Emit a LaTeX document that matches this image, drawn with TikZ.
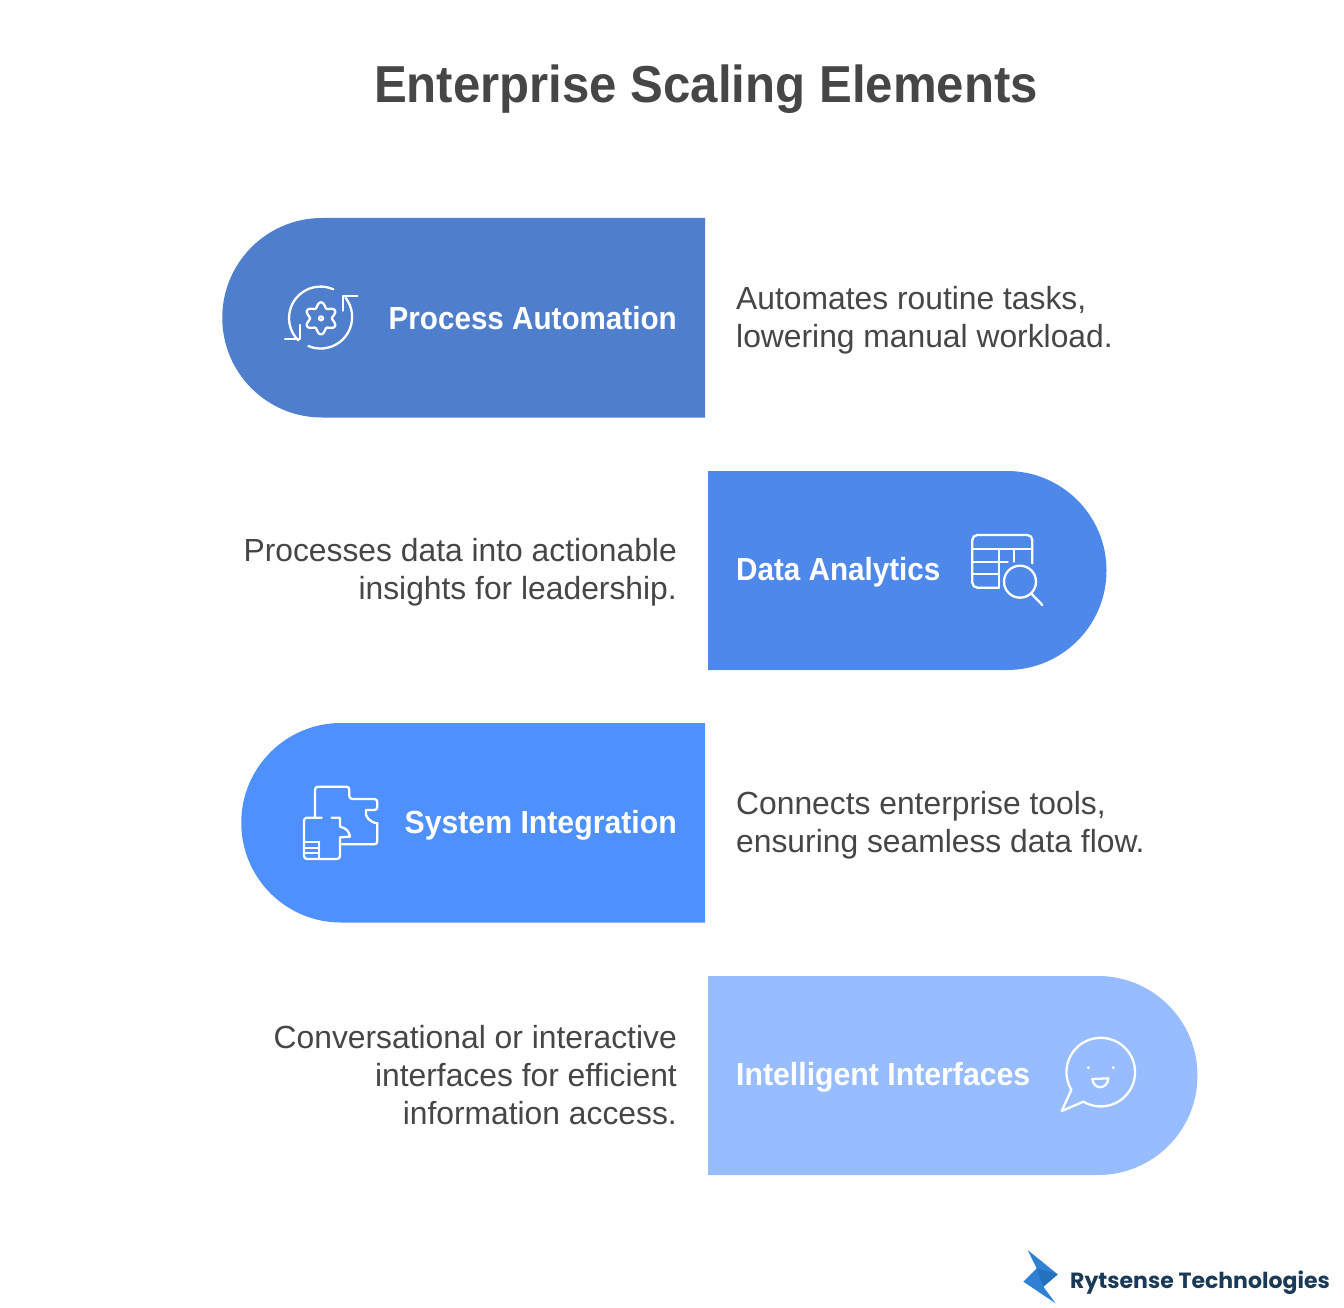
\documentclass[tikz,border=0pt]{standalone}
\usepackage{fontspec}
\setmainfont{Liberation Sans}[BoldFeatures={FakeStretch=0.926}]
\newfontfamily\titlefont{Liberation Sans}[BoldFeatures={FakeStretch=0.945}]
\newfontfamily\descfont{Liberation Sans}[FakeStretch=0.994]
\newfontfamily\logofont{Poppins}
\definecolor{pillA}{HTML}{4F7FCC}
\definecolor{pillB}{HTML}{4E88E8}
\definecolor{pillC}{HTML}{4F90FF}
\definecolor{pillD}{HTML}{97BCFF}
\definecolor{ink}{HTML}{464646}
\definecolor{navy}{HTML}{1B3A57}
\definecolor{logoA}{HTML}{2F80D2}
\definecolor{logoB}{HTML}{2272BE}
\tikzset{
  titletext/.style={font=\titlefont\fontsize{52}{56}\selectfont\bfseries,text=ink,inner sep=0pt},
  pilltext/.style={font=\fontsize{32}{38}\selectfont\bfseries,text=white,inner sep=0pt,anchor=east},
  pillwide/.style={pilltext,font=\titlefont\fontsize{32}{38}\selectfont\bfseries},
  desc/.style={font=\descfont\fontsize{32}{38}\selectfont,text=ink,inner sep=0pt},
  descL/.style={desc,align=left,anchor=west},
  descR/.style={desc,align=right,anchor=east},
  icon/.style={draw=white,line width=2.3pt,line cap=round,line join=round},
  zoomed/.style={x=0.33333pt,y=-0.33333pt},
}
\begin{document}
\begin{tikzpicture}[x=1pt,y=-1pt]
\useasboundingbox (0,0) rectangle (1344,1308);
\node[titletext] (title) at (706,89) {Enterprise Scaling Elements};

\fill[pillA] (705,218) -- (322,218) arc[start angle=90,end angle=270,radius=99.75pt] -- (705,417.5) -- cycle;
\fill[pillB] (708,471) -- (1007,471) arc[start angle=90,end angle=-90,radius=99.5pt] -- (708,670) -- cycle;
\fill[pillC] (705,723) -- (341,723) arc[start angle=90,end angle=270,radius=99.75pt] -- (705,922.5) -- cycle;
\fill[pillD] (708,976) -- (1098,976) arc[start angle=90,end angle=-90,radius=99.5pt] -- (708,1175) -- cycle;

\node[pilltext] (l1) at (677,318) {Process Automation};
\node[pilltext,anchor=west] (l2) at (736,572) {Data Analytics};
\node[pillwide] (l3) at (677,825) {System Integration};
\node[pillwide,anchor=west] (l4) at (736,1077) {Intelligent Interfaces};

\node[descL] (d1) at (736,320) {Automates routine tasks,\\lowering manual workload.};
\node[descR] (d2) at (677,572) {Processes data into actionable\\insights for leadership.};
\node[descL] (d3) at (736,825) {Connects enterprise tools,\\ensuring seamless data flow.};
\node[descR] (d4) at (677,1075) {Conversational or interactive\\interfaces for efficient\\information access.};

% gear icon
\begin{scope}[shift={(270,270)},zoomed,icon]
\draw (190,58) arc[start angle=66,end angle=225,radius=31.5pt];
\draw (115,228) arc[start angle=247,end angle=398,radius=31.5pt];
\draw (45,208) -- (90,208) -- (90,165);
\draw (262,78) -- (218,78) -- (218,122);
\draw[smooth,samples=145,domain=0:360] plot ({153+(40.5+7.5*cos(6*\x))*cos(\x+90)},{145+(40.5+7.5*cos(6*\x))*sin(\x+90)}) -- cycle;
\draw (153,145) circle[radius=2pt];
\end{scope}

% table icon
\begin{scope}[shift={(955,520)},zoomed,icon]
\draw[rounded corners=5pt] (232,130) -- (232,45) -- (52,45) -- (52,203) -- (132,203);
\draw (52,88) -- (232,88);
\draw (52,125) -- (158,125);
\draw (52,163) -- (132,163);
\draw (132,88) -- (132,203);
\draw (178,88) -- (178,125);
\draw (195,185) circle[radius=16pt];
\draw (230,222) -- (262,255);
\end{scope}

% puzzle icon
\begin{scope}[shift={(290,775)},zoomed,icon]
\draw[rounded corners=3pt] (75,125) -- (75,35) -- (178,35) -- (178,72) -- (262,72) -- (262,105) -- (228,105);
\draw (228,105) .. controls (222,125) and (240,142) .. (262,145);
\draw[rounded corners=3pt] (262,145) -- (262,208) -- (155,208);
\draw[rounded corners=3pt] (95,128) -- (42,128) -- (42,252) -- (150,252) -- (150,190);
\draw (125,128) -- (150,128) -- (150,155) .. controls (168,158) and (178,170) .. (180,185) -- (150,187);
\draw (42,200) -- (88,200);
\draw (42,218) -- (88,218);
\draw (42,235) -- (88,235);
\draw (88,200) -- (88,252);
\end{scope}

% chat icon
\begin{scope}[shift={(1050,1025)},zoomed,icon]
\draw (100,230) arc[start angle=239.5,end angle=571,radius=34.3pt] -- (35,258) -- cycle;
\fill[white] (115,128) circle[radius=1.6pt];
\fill[white] (190,128) circle[radius=1.6pt];
\draw (127,162) -- (175,160) .. controls (172,195) and (130,195) .. (127,162) -- cycle;
\end{scope}

% logo
\begin{scope}[shift={(1015,1245)},zoomed]
\fill[logoA] (38,15) -- (128,88) -- (85,125) -- (122,175) -- (25,110) -- (65,70) -- cycle;
\fill[logoB] (65,70) -- (128,88) -- (85,125) -- cycle;
\end{scope}
\node[inner sep=0pt,anchor=west,text=navy,font=\logofont\bfseries\fontsize{22}{26}\selectfont] (logo) at (1070,1283) {Rytsense Technologies};
\end{tikzpicture}
\end{document}
